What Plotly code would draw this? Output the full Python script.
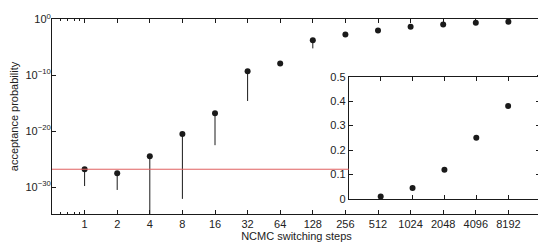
import numpy as np
import plotly.graph_objects as go

# NCMC switching steps and acceptance probability (main, log-scale panel)
steps = [1, 2, 4, 8, 16, 32, 64, 128, 256, 512, 1024, 2048, 4096, 8192]
log_p = [-26.8, -27.5, -24.5, -20.5, -16.8, -9.3, -7.9, -3.75, -2.7,
         -2.0, -1.35, -0.92, -0.6, -0.42]
log_p_low = [-29.8, -30.5, -40.0, -32.1, -22.5, -14.6, -7.9, -5.2, -2.7,
             -2.0, -1.35, -0.92, -0.6, -0.42]
ref_log_p = -26.8

# inset (linear panel)
inset_steps = [512, 1024, 2048, 4096, 8192]
inset_p = [0.01, 0.045, 0.12, 0.25, 0.38]

p = 10 ** np.array(log_p)
p_low = 10 ** np.array(log_p_low)

FONT = "Liberation Sans, Arial, sans-serif"
INK = "#1a1a1a"

fig = go.Figure()
fig.add_trace(go.Scatter(
    x=steps, y=p, mode="markers",
    marker=dict(color=INK, size=6),
    error_y=dict(type="data", symmetric=False, array=[0] * len(p),
                 arrayminus=list(p - p_low), width=0, thickness=1, color=INK),
    showlegend=False, xaxis="x", yaxis="y",
))
fig.add_trace(go.Scatter(
    x=inset_steps, y=inset_p, mode="markers",
    marker=dict(color=INK, size=6),
    showlegend=False, xaxis="x2", yaxis="y2",
))

fig.add_shape(type="line", xref="x domain", yref="y",
              x0=0, x1=0.607, y0=10 ** ref_log_p, y1=10 ** ref_log_p,
              line=dict(color="#e06060", width=1))

axis_common = dict(showline=True, linecolor=INK, linewidth=1, mirror="ticks",
                   ticks="inside", ticklen=4, tickcolor=INK, showgrid=False,
                   zeroline=False, automargin=False)

# the page body adds an 8px margin, so the figure is a bit smaller than the window
fig.update_layout(
    width=538, height=238,
    margin=dict(l=44, r=5, t=11, b=32),
    paper_bgcolor="white", plot_bgcolor="white",
    font=dict(family=FONT, size=11, color="#222"),
    xaxis=dict(type="log", range=[np.log10(0.5), np.log10(16384)],
               tickvals=steps, ticktext=[str(s) for s in steps],
               tickfont=dict(size=11),
               title=dict(text="NCMC switching steps", standoff=2,
                          font=dict(size=11)),
               minor=dict(tickvals=[0.6, 0.7, 0.8, 0.9], ticks="inside",
                          ticklen=2, tickcolor=INK),
               **axis_common),
    yaxis=dict(type="log", range=[-34.8, 0.05],
               tickvals=[1, 1e-10, 1e-20, 1e-30],
               ticktext=["10<sup>0</sup>", "10<sup>−10</sup>",
                         "10<sup>−20</sup>", "10<sup>−30</sup>"],
               tickfont=dict(size=11), ticklabelstandoff=-2,
               title=dict(text="acceptance probability", standoff=8,
                          font=dict(size=11)),
               **axis_common),
    xaxis2=dict(type="log", domain=[0.607, 0.998], anchor="y2",
                range=[np.log10(256), np.log10(16384)],
                tickvals=inset_steps, showticklabels=False, **axis_common),
    yaxis2=dict(domain=[0.077, 0.704], anchor="x2", range=[0, 0.5],
                tickvals=[0, 0.1, 0.2, 0.3, 0.4, 0.5],
                ticktext=["0", "0.1", "0.2", "0.3", "0.4", "0.5"],
                tickfont=dict(size=11),
                **axis_common),
)

fig.write_html("out.html")
